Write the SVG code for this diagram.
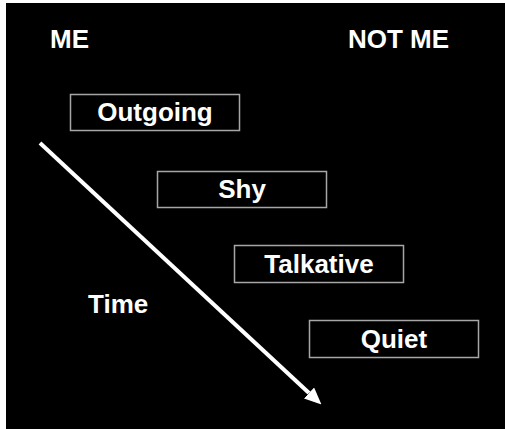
<svg xmlns="http://www.w3.org/2000/svg" width="505" height="429" viewBox="0 0 505 429">
  <style>
    .label { font-family: "Liberation Sans", Arial, sans-serif; font-weight: bold; font-size: 26px; fill: #ffffff; }
    .mid { text-anchor: middle; }
    .box { fill: #000000; stroke: #a6a6a6; stroke-width: 1.5; }
    .arrow { stroke: #ffffff; stroke-width: 4; fill: none; }
  </style>
  <defs>
    <marker id="head" markerUnits="userSpaceOnUse" markerWidth="17" markerHeight="15" refX="0" refY="7.5" orient="auto">
      <path d="M0,0 L17,7.5 L0,15 z" fill="#ffffff"/>
    </marker>
  </defs>

  <!-- page: white margin on top/left, black slide -->
  <rect x="0" y="0" width="505" height="429" fill="#ffffff"/>
  <rect x="6" y="3" width="499" height="426" fill="#000000"/>

  <!-- column headings -->
  <g id="heading-me">
    <text class="label" x="50" y="48">ME</text>
  </g>
  <g id="heading-not-me">
    <text class="label" x="348" y="48">NOT ME</text>
  </g>

  <!-- trait boxes, stepping down to the right -->
  <g id="outgoing">
    <rect class="box" x="70.5" y="94.5" width="169" height="36"/>
    <text class="label mid" x="155" y="121">Outgoing</text>
  </g>
  <g id="shy">
    <rect class="box" x="157.5" y="171.5" width="169" height="36"/>
    <text class="label mid" x="242" y="198">Shy</text>
  </g>
  <g id="talkative">
    <rect class="box" x="234.5" y="245.5" width="169" height="37"/>
    <text class="label mid" x="319" y="273">Talkative</text>
  </g>
  <g id="quiet">
    <rect class="box" x="309.5" y="320.5" width="169" height="37"/>
    <text class="label mid" x="394" y="348">Quiet</text>
  </g>

  <g id="time">
    <text class="label" x="88" y="313">Time</text>
  </g>

  <!-- time axis -->
  <g id="connectors">
    <line class="arrow" x1="40" y1="143" x2="309" y2="393" marker-end="url(#head)"/>
  </g>
</svg>
